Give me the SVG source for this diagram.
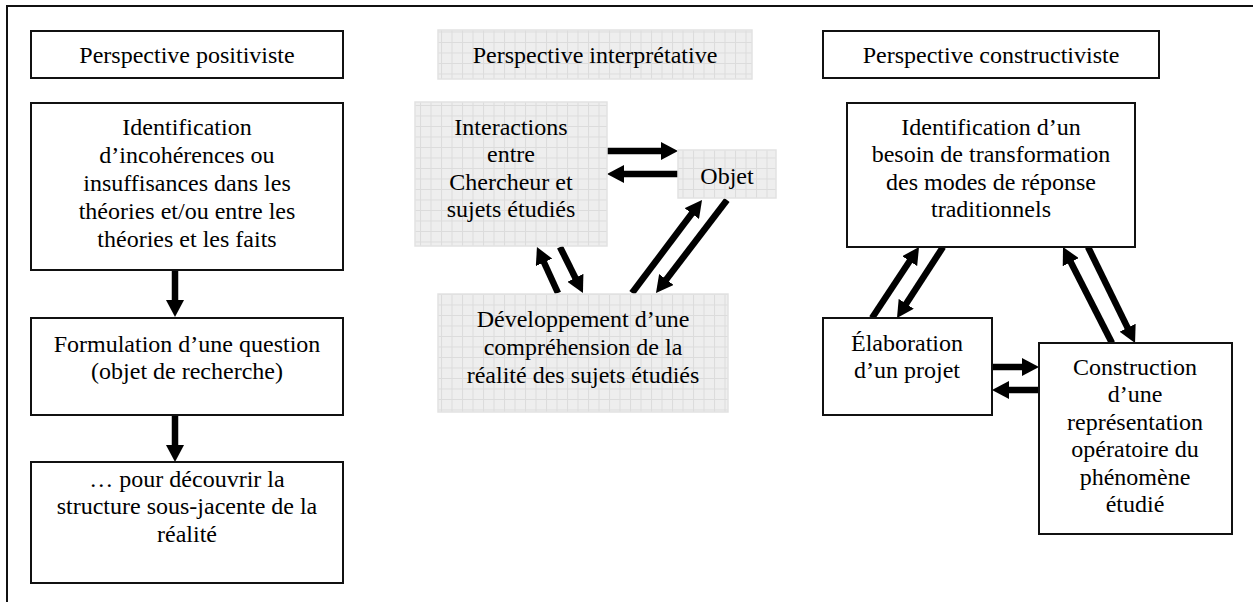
<svg xmlns="http://www.w3.org/2000/svg" width="1253" height="602" viewBox="0 0 1253 602">
<defs>
<style>
.box{fill:#fff;stroke:#111;stroke-width:2}
.gbox{fill:url(#grid);stroke:#e2e2e2;stroke-width:1.5}
text{font-family:"Liberation Serif","Times New Roman",serif;font-size:24px;fill:#000;text-anchor:middle}
.arr{stroke:#000;stroke-width:6.5;fill:none;marker-end:url(#head)}
.frame{stroke:#111;stroke-width:2;fill:none}
</style>
<pattern id="grid" width="10.5" height="10.5" patternUnits="userSpaceOnUse">
<rect width="10.5" height="10.5" fill="#eeeeee"/>
<path d="M0 0.5H10.5M0.5 0V10.5" stroke="#dcdcdc" stroke-width="1"/>
</pattern>
<marker id="head" viewBox="0 0 17 18" refX="1" refY="9" markerWidth="17" markerHeight="18" markerUnits="userSpaceOnUse" orient="auto">
<path d="M0 0L17 9L0 18z" fill="#000"/>
</marker>
</defs>
<path class="frame" d="M7 602V6H1253"/>
<g id="connectors">
<line class="arr" x1="175" y1="270" x2="175" y2="301"/>
<line class="arr" x1="175" y1="415" x2="175" y2="446"/>
<line class="arr" x1="607" y1="151" x2="662" y2="151"/>
<line class="arr" x1="678" y1="174" x2="623" y2="174"/>
<line class="arr" x1="558" y1="293" x2="543.6" y2="261.5"/>
<line class="arr" x1="560" y1="247" x2="575.8" y2="278.7"/>
<line class="arr" x1="632" y1="293" x2="692.4" y2="212.8"/>
<line class="arr" x1="727" y1="200" x2="665.7" y2="280.3"/>
<line class="arr" x1="992" y1="367" x2="1023" y2="367"/>
<line class="arr" x1="1039" y1="390" x2="1008" y2="390"/>
<line class="arr" x1="872" y1="318" x2="910.2" y2="260.3"/>
<line class="arr" x1="943" y1="247" x2="905.7" y2="304.6"/>
<line class="arr" x1="1112" y1="343" x2="1070.3" y2="261.3"/>
<line class="arr" x1="1088" y1="247" x2="1128" y2="328.6"/>
</g>
<g id="title-positiviste">
<rect class="box" x="31" y="31" width="312" height="47"/>
<text x="187" y="63">Perspective positiviste</text>
</g>
<g id="identification-incoherences">
<rect class="box" x="31" y="103" width="312" height="167"/>
<text x="187" y="135">Identification</text>
<text x="187" y="163">d’incohérences ou</text>
<text x="187" y="191">insuffisances dans les</text>
<text x="187" y="219">théories et/ou entre les</text>
<text x="187" y="247">théories et les faits</text>
</g>
<g id="formulation">
<rect class="box" x="31" y="318" width="312" height="97"/>
<text x="187" y="352">Formulation d’une question</text>
<text x="187" y="379">(objet de recherche)</text>
</g>
<g id="decouvrir">
<rect class="box" x="31" y="462" width="312" height="121"/>
<text x="187" y="487">… pour découvrir la</text>
<text x="187" y="514">structure sous-jacente de la</text>
<text x="187" y="542">réalité</text>
</g>
<g id="title-interpretative">
<rect class="gbox" x="438" y="30" width="314" height="49"/>
<text x="595" y="63">Perspective interprétative</text>
</g>
<g id="interactions">
<rect class="gbox" x="415" y="102" width="192" height="144"/>
<text x="511" y="135">Interactions</text>
<text x="511" y="162">entre</text>
<text x="511" y="190">Chercheur et</text>
<text x="511" y="217">sujets étudiés</text>
</g>
<g id="objet">
<rect class="gbox" x="678" y="150" width="98" height="48"/>
<text x="727" y="184">Objet</text>
</g>
<g id="developpement">
<rect class="gbox" x="438" y="294" width="290" height="118"/>
<text x="583" y="327">Développement d’une</text>
<text x="583" y="355">compréhension de la</text>
<text x="583" y="383">réalité des sujets étudiés</text>
</g>
<g id="title-constructiviste">
<rect class="box" x="823" y="31" width="336" height="47"/>
<text x="991" y="63">Perspective constructiviste</text>
</g>
<g id="identification-besoin">
<rect class="box" x="847" y="103" width="288" height="144"/>
<text x="991" y="135">Identification d’un</text>
<text x="991" y="162">besoin de transformation</text>
<text x="991" y="190">des modes de réponse</text>
<text x="991" y="217">traditionnels</text>
</g>
<g id="elaboration">
<rect class="box" x="823" y="318" width="169" height="97"/>
<text x="907" y="351">Élaboration</text>
<text x="907" y="378">d’un projet</text>
</g>
<g id="construction">
<rect class="box" x="1039" y="343" width="193" height="191"/>
<text x="1135" y="375">Construction</text>
<text x="1135" y="402">d’une</text>
<text x="1135" y="430">représentation</text>
<text x="1135" y="457">opératoire du</text>
<text x="1135" y="485">phénomène</text>
<text x="1135" y="512">étudié</text>
</g>
</svg>
